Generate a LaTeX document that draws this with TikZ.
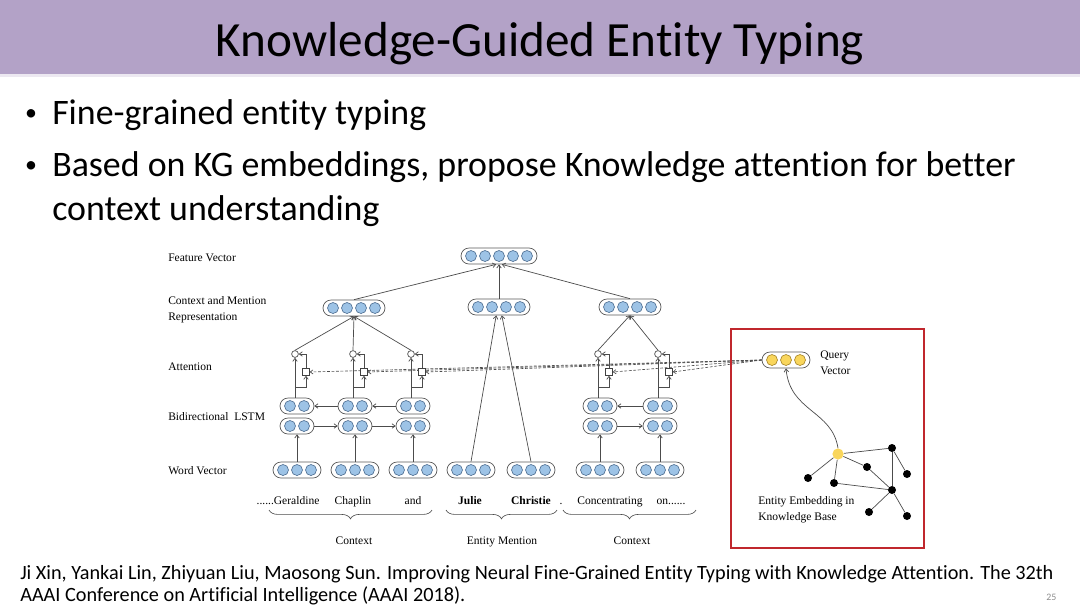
\documentclass[tikz,border=0pt]{standalone}
\usepackage{fontspec}
\setmainfont{Carlito}[Ligatures=NoCommon]
\newfontfamily\figfont{Liberation Serif}
\usetikzlibrary{arrows.meta,calc,decorations.pathreplacing}

\definecolor{titlebar}{HTML}{B3A2C7}
\definecolor{cellblue}{HTML}{9DC3E6}
\definecolor{cellblueline}{HTML}{4F6F93}
\definecolor{cellyellow}{HTML}{F9D65C}
\definecolor{cellyellowline}{HTML}{A8862A}
\definecolor{kbred}{HTML}{C0272D}

% capsule of cells: #1 name, #2 centre, #3 number of cells, #4 cell style
\newcommand{\vecbox}[4]{%
  \node[capsule, minimum width={(#3*14+6)*0.025cm}] (#1) at #2 {};
  \foreach \k in {1,...,#3}
    \node[#4] at ($(#1.center)+({(\k-(#3+1)/2)*14},0)$) {};
}

\begin{document}
\begin{tikzpicture}[
    x=0.025cm, y=-0.025cm,
    % vectors
    capsule/.style={draw=black!65, fill=white, rounded corners=0.2cm,
                    minimum height=0.4cm, inner sep=0pt, line width=0.5pt},
    bluecell/.style={circle, draw=cellblueline, fill=cellblue,
                     minimum size=0.275cm, inner sep=0pt, line width=0.45pt},
    yellowcell/.style={bluecell, draw=cellyellowline, fill=cellyellow},
    % attention gate parts
    mulnode/.style={circle, draw=black!75, fill=white, minimum size=0.17cm,
                    inner sep=0pt, line width=0.45pt},
    attbox/.style={rectangle, draw=black!75, fill=white, minimum size=0.17cm,
                   inner sep=0pt, line width=0.45pt},
    % knowledge graph
    kbdot/.style={circle, fill=black, minimum size=0.2cm, inner sep=0pt},
    kbhub/.style={circle, fill=cellyellow, minimum size=0.28cm, inner sep=0pt},
    % text
    fig/.style={font=\figfont\fontsize{8.2}{11.4}\selectfont, inner sep=0pt},
    rowlbl/.style={fig, anchor=west, align=left},
    word/.style={fig, anchor=base},
    slide/.style={inner sep=0pt, anchor=base west},
    bigtext/.style={slide, font=\fontsize{25.5}{31}\selectfont},
    dot/.style={inner sep=0pt, anchor=center, font=\fontsize{17}{20}\selectfont},
    % arrows
    arr/.style={-{Straight Barb[length=2.2pt,width=3.2pt]}, line width=0.5pt, draw=black!70},
    plain/.style={line width=0.5pt, draw=black!70},
    qarr/.style={-{Straight Barb[length=2pt,width=3pt]}, line width=0.45pt,
                 draw=black!70, dash pattern=on 2pt off 1.2pt},
    brc/.style={decorate, decoration={brace, mirror, amplitude=0.22cm},
                line width=0.45pt, draw=black!70},
]
\useasboundingbox (0,0) rectangle (1080,608);

%% ── Slide frame ──
\fill[titlebar] (0,0) rectangle (1080,74);
\fill[titlebar!25] (0,74) rectangle (1080,77);
\node[inner sep=0pt, anchor=base, font=\fontsize{35}{40}\selectfont] (title) at (540,56)
     {Knowledge-Guided Entity Typing};

\node[dot] (bul1) at (31,115) {•};
\node[bigtext] (txt1) at (52,124) {Fine-grained entity typing};
\node[dot] (bul2) at (31,167) {•};
\node[bigtext] (txt2) at (52,176)
     {Based on KG embeddings, propose Knowledge attention for better};
\node[bigtext] (txt3) at (52,220) {context understanding};

%% ── Row labels ──
\node[rowlbl] (lfv)  at (168,258) {Feature Vector};
\node[rowlbl] (lcmr) at (168,310) {Context and Mention\\Representation};
\node[rowlbl] (latt) at (168,367) {Attention};
\node[rowlbl] (llst) at (168,417) {Bidirectional\ \ LSTM};
\node[rowlbl] (lwv)  at (168,471) {Word Vector};

%% ── Context columns: word vector, BiLSTM, attention gate ──
\vecbox{qv}{(786,360)}{3}{yellowcell}
\foreach \i/\x in {1/297, 2/355, 3/413, 6/600, 7/660} {
  \vecbox{wv\i}{(\x,470)}{3}{bluecell}
  \vecbox{lf\i}{(\x,426)}{2}{bluecell}
  \vecbox{lb\i}{(\x,406)}{2}{bluecell}
  \node[mulnode] (mul\i) at (\x-2,354) {};
  \node[attbox]  (att\i) at (\x+9,372) {};
  \coordinate (br\i) at (\x-2,387);
  \draw[arr] (wv\i.north) -- (lf\i.south);
  \draw[arr] (lb\i.north -| mul\i) -- (mul\i.south);
  \draw[arr] (br\i) -| (att\i.south);
  \draw[arr] (att\i.north) |- (mul\i.east);
  \draw[qarr] (qv.west) -- (att\i.east);
}

%% ── LSTM chains ──
\draw[arr] (lf1.east) -- (lf2.west);
\draw[arr] (lf2.east) -- (lf3.west);
\draw[arr] (lf6.east) -- (lf7.west);
\draw[arr] (lb3.west) -- (lb2.east);
\draw[arr] (lb2.west) -- (lb1.east);
\draw[arr] (lb7.west) -- (lb6.east);

%% ── Entity mention ──
\vecbox{wv4}{(471,470)}{3}{bluecell}
\vecbox{wv5}{(531,470)}{3}{bluecell}

%% ── Representations and feature vector ──
\vecbox{crl}{(354,308)}{4}{bluecell}
\vecbox{mr}{(499,307)}{4}{bluecell}
\vecbox{crr}{(630,307)}{4}{bluecell}
\vecbox{fv}{(499,256)}{5}{bluecell}

\foreach \i in {1,2,3} \draw[arr] (mul\i.north) -- (crl.south);
\foreach \i in {6,7} \draw[arr] (mul\i.north) -- (crr.south);
\draw[arr] (wv4.north) -- ([xshift=-0.07cm]mr.south);
\draw[arr] (wv5.north) -- ([xshift=0.07cm]mr.south);
\draw[arr] (crl.north) -- ([xshift=-0.07cm]fv.south);
\draw[arr] (mr.north) -- (fv.south);
\draw[arr] (crr.north) -- ([xshift=0.07cm]fv.south);

%% ── Words and braces ──
\node[word] (w1) at (288,504) {......Geraldine};
\node[word] (w2) at (353,504) {Chaplin};
\node[word] (w3) at (413,504) {and};
\node[word, font=\figfont\bfseries\fontsize{8.2}{11.4}\selectfont] (w4) at (470,504) {Julie};
\node[word, font=\figfont\bfseries\fontsize{8.2}{11.4}\selectfont] (w5) at (531,504) {Christie};
\node[word] (wdot) at (561,504) {.};
\node[word] (w6) at (610,504) {Concentrating};
\node[word] (w7) at (671,504) {on......};

\draw[brc] (269,510) -- (432,510);
\draw[brc] (446,510) -- (557,510);
\draw[brc] (563,510) -- (696,510);
\node[word] (ctxl) at (354,544) {Context};
\node[word] (ment) at (502,544) {Entity Mention};
\node[word] (ctxr) at (632,544) {Context};

%% ── Knowledge base panel ──
\draw[kbred, line width=0.05cm] (731,329) rectangle (924,548);
\node[rowlbl] (lqv) at (820,363) {Query\\Vector};

\node[kbhub] (k0) at (838,454) {};
\node[kbdot] (k1) at (892,448) {};
\node[kbdot] (k2) at (867,467) {};
\node[kbdot] (k3) at (808,478) {};
\node[kbdot] (k4) at (834,483) {};
\node[kbdot] (k5) at (892,490) {};
\node[kbdot] (k6) at (907,474) {};
\node[kbdot] (k7) at (869,512) {};
\node[kbdot] (k8) at (907,516) {};
\foreach \a/\b in {k0/k1, k0/k2, k0/k3, k0/k4, k1/k5, k1/k6, k2/k5, k4/k5, k5/k7, k5/k8}
  \draw[plain] (\a) -- (\b);
\draw[arr] (k0.north) .. controls (832,410) and (790,412) .. (qv.south);
\node[rowlbl] (lkb) at (758,510) {Entity Embedding in\\Knowledge Base};

%% ── Reference ──
\node[slide, font=\fontsize{14.4}{18}\selectfont] (cite1) at (20,579)
     {Ji Xin, Yankai Lin, Zhiyuan Liu, Maosong Sun. Improving Neural Fine-Grained Entity Typing with Knowledge Attention. The 32th};
\node[slide, font=\fontsize{14.4}{18}\selectfont] (cite2) at (20,601)
     {AAAI Conference on Artificial Intelligence (AAAI 2018).};
\node[slide, font=\fontsize{7}{8}\selectfont, text=black!45] (pg) at (1046,600) {25};

\end{tikzpicture}
\end{document}
